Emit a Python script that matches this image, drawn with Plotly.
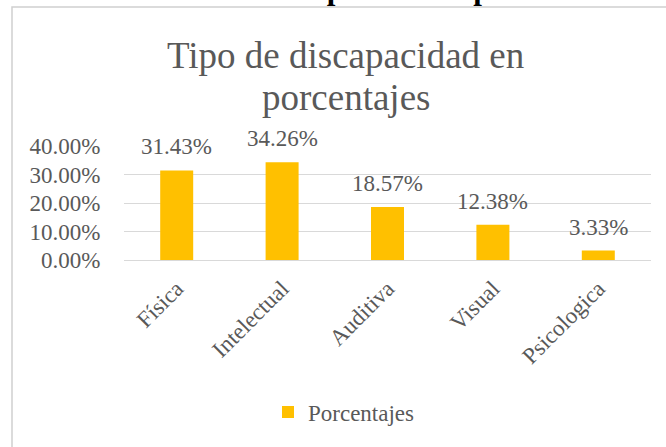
import plotly.graph_objects as go

categories = ["Física", "Intelectual", "Auditiva", "Visual", "Psicologica"]
values = [0.3143, 0.3426, 0.1857, 0.1238, 0.0333]
series_name = "Porcentajes"
y_ticks = [0.0, 0.1, 0.2, 0.3, 0.4]

FONT = "Liberation Serif, Times New Roman, serif"
GREY = "#595959"
BAR = "#FFC000"

W, H = 666, 447
L, R, T, B = 124, 15, 146, 187
plot_w = W - L - R
plot_h = H - T - B


def px_x(x):
    return (x - L) / plot_w


def px_y(y):
    return (H - B - y) / plot_h


fig = go.Figure()
fig.add_trace(go.Bar(
    x=categories,
    y=values,
    name=series_name,
    marker=dict(color=BAR, line=dict(width=0)),
    showlegend=True,
))

# value labels above each bar
for c, v in zip(categories, values):
    fig.add_annotation(
        x=c, y=v, xref="x", yref="y",
        text=f"{v * 100:.2f}%",
        showarrow=False, yanchor="bottom", yshift=9,
        font=dict(family=FONT, size=23, color=GREY),
    )

# chart title (two lines)
fig.add_annotation(x=px_x(345), y=px_y(55), xref="paper", yref="paper",
                   text="Tipo de discapacidad en", showarrow=False,
                   xanchor="center", yanchor="middle",
                   font=dict(family=FONT, size=37, color=GREY))
fig.add_annotation(x=px_x(346), y=px_y(97), xref="paper", yref="paper",
                   text="porcentajes", showarrow=False,
                   xanchor="center", yanchor="middle",
                   font=dict(family=FONT, size=37, color=GREY))

# document caption above the chart frame
fig.add_annotation(x=px_x(350), y=px_y(-12), xref="paper", yref="paper",
                   text="<b>Ilustración 3 Tipo de discapacidad</b>", showarrow=False,
                   xanchor="center", yanchor="middle",
                   font=dict(family=FONT, size=31, color="#000000"))

# chart frame
fig.add_shape(type="rect", xref="paper", yref="paper",
              x0=px_x(12), x1=px_x(700), y0=px_y(480), y1=px_y(7),
              line=dict(color="#d0d0d0", width=1.5), fillcolor="rgba(0,0,0,0)",
              layer="above")

fig.update_layout(
    width=W, height=H,
    margin=dict(l=L, r=R, t=T, b=B, pad=0),
    paper_bgcolor="white", plot_bgcolor="white",
    bargap=0.687,
    font=dict(family=FONT, size=23, color=GREY),
    showlegend=True,
    legend=dict(orientation="h", x=px_x(344), xanchor="center",
                y=px_y(412), yanchor="middle",
                font=dict(family=FONT, size=23, color=GREY),
                itemwidth=30, bgcolor="rgba(0,0,0,0)"),
    xaxis=dict(tickangle=-45, showgrid=False, showline=False, zeroline=False,
               ticks="outside", ticklen=5, tickcolor="rgba(0,0,0,0)",
               tickfont=dict(family=FONT, size=23, color=GREY)),
    yaxis=dict(range=[0, 0.4], tickvals=y_ticks, tickformat=".2%",
               showgrid=True, gridcolor="#d9d9d9", gridwidth=1.3,
               zeroline=True, zerolinecolor="#d9d9d9", zerolinewidth=1.3,
               showline=False, ticks="outside", ticklen=18,
               tickcolor="rgba(0,0,0,0)",
               tickfont=dict(family=FONT, size=23, color=GREY)),
)

fig.write_html("out.html")
